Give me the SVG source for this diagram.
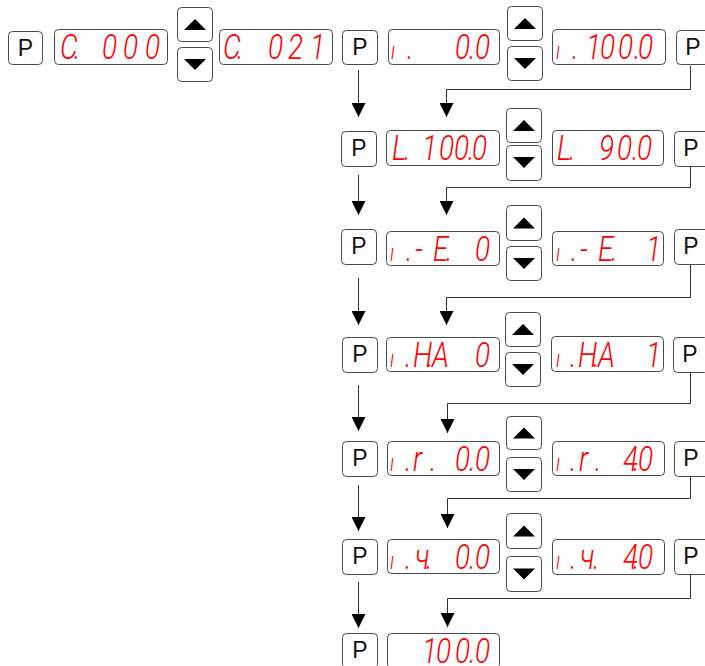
<svg xmlns="http://www.w3.org/2000/svg" width="705" height="666" viewBox="0 0 705 666">
<style>
.box{fill:#fff;stroke:#4a4a4a;stroke-width:1}
.p{font-family:"Liberation Sans",Arial,sans-serif;font-size:23px;text-anchor:middle;fill:#111}
.seg{font-family:Roboto,"Liberation Sans",sans-serif;font-style:italic;font-weight:300;font-size:35px;fill:#f00}
.sm{font-size:24px}
.tri{fill:#000}
.conn{fill:none;stroke:#333;stroke-width:1;marker-end:url(#ah)}
</style>
<defs>
<marker id="ah" markerUnits="userSpaceOnUse" markerWidth="14" markerHeight="14" refX="14" refY="7" orient="auto"><path d="M0,0 L14,7 L0,14 z" fill="#000"/></marker>
</defs>
<rect width="705" height="666" fill="#fff"/>
<g id="connectors">
<path class="conn" d="M358.5,70 V117"/>
<path class="conn" d="M358.5,175 V215"/>
<path class="conn" d="M358.5,278 V325"/>
<path class="conn" d="M358.5,385 V431"/>
<path class="conn" d="M358.5,485 V531"/>
<path class="conn" d="M358.5,582 V628"/>
<path class="conn" d="M690.5,66 V89.5 H446.5 V117"/>
<path class="conn" d="M690.5,167 V187.5 H446.5 V215"/>
<path class="conn" d="M690.5,265 V297.5 H446.5 V325"/>
<path class="conn" d="M690.5,373 V403.5 H447.5 V433"/>
<path class="conn" d="M690.5,477 V498.5 H447.5 V528"/>
<path class="conn" d="M690.5,575 V598.5 H447.5 V627"/>
</g>
<!-- Row 1 -->
<g id="r1-p1"><rect class="box" x="8.5" y="31.5" width="34" height="33" rx="4"/><text class="p" x="25.5" y="56">P</text></g>
<g id="r1-d1"><rect class="box" x="54.5" y="29.5" width="113" height="35" rx="4"/><text class="seg" y="59" transform="scale(0.8,1)"><tspan x="75">C</tspan><tspan x="92.5">.</tspan><tspan x="127.5">0</tspan><tspan x="153.75">0</tspan><tspan x="181.25">0</tspan></text></g>
<g id="r1-up1"><rect class="box" x="177.5" y="7.5" width="35" height="34" rx="4"/><polygon class="tri" points="184,30 206,30 195,19"/></g>
<g id="r1-dn1"><rect class="box" x="177.5" y="47.5" width="35" height="34" rx="4"/><polygon class="tri" points="184,59 206,59 195,70"/></g>
<g id="r1-d2"><rect class="box" x="219.5" y="29.5" width="113" height="35" rx="4"/><text class="seg" y="59" transform="scale(0.8,1)"><tspan x="278.75">C</tspan><tspan x="296.25">.</tspan><tspan x="335">0</tspan><tspan x="360">2</tspan><tspan x="387.5">1</tspan></text></g>
<g id="r1-p2"><rect class="box" x="342.5" y="30.5" width="35" height="34" rx="4"/><text class="p" x="360" y="55">P</text></g>
<g id="r1-d3"><rect class="box" x="388.5" y="29.5" width="111" height="35" rx="4"/><text class="seg" y="59" transform="scale(0.8,1)"><tspan x="488.75" class="sm">ı</tspan><tspan x="508.75">.</tspan><tspan x="568.75">0</tspan><tspan x="586.25">.</tspan><tspan x="593.75">0</tspan></text></g>
<g id="r1-up2"><rect class="box" x="507.5" y="6.5" width="35" height="34" rx="4"/><polygon class="tri" points="514,29 536,29 525,18"/></g>
<g id="r1-dn2"><rect class="box" x="507.5" y="46.5" width="35" height="34" rx="4"/><polygon class="tri" points="514,58 536,58 525,69"/></g>
<g id="r1-d4"><rect class="box" x="552.5" y="29.5" width="113" height="35" rx="4"/><text class="seg" y="59" transform="scale(0.8,1)"><tspan x="695" class="sm">ı</tspan><tspan x="715">.</tspan><tspan x="732.5">1</tspan><tspan x="750">0</tspan><tspan x="772.5">0</tspan><tspan x="792.5">.</tspan><tspan x="797.5">0</tspan></text></g>
<g id="r1-p3"><rect class="box" x="676.5" y="30.5" width="35" height="34" rx="4"/><text class="p" x="693" y="55">P</text></g>
<!-- Row 2 -->
<g id="r2-p1"><rect class="box" x="341.5" y="131.5" width="35" height="35" rx="4"/><text class="p" x="359" y="156">P</text></g>
<g id="r2-d1"><rect class="box" x="386.5" y="130.5" width="113" height="35" rx="4"/><text class="seg" y="160" transform="scale(0.8,1)"><tspan x="490">L</tspan><tspan x="505">.</tspan><tspan x="527.5">1</tspan><tspan x="548.75">0</tspan><tspan x="567.5">0</tspan><tspan x="585">.</tspan><tspan x="590">0</tspan></text></g>
<g id="r2-up"><rect class="box" x="506.5" y="108.5" width="35" height="34" rx="4"/><polygon class="tri" points="513,131 535,131 524,120"/></g>
<g id="r2-dn"><rect class="box" x="506.5" y="145.5" width="35" height="35" rx="4"/><polygon class="tri" points="513,157 535,157 524,168"/></g>
<g id="r2-d2"><rect class="box" x="552.5" y="130.5" width="111" height="35" rx="4"/><text class="seg" y="160" transform="scale(0.8,1)"><tspan x="696.25">L</tspan><tspan x="711.25">.</tspan><tspan x="748.75">9</tspan><tspan x="771.25">0</tspan><tspan x="790">.</tspan><tspan x="796.25">0</tspan></text></g>
<g id="r2-p2"><rect class="box" x="674.5" y="131.5" width="35" height="35" rx="4"/><text class="p" x="691" y="156">P</text></g>
<!-- Row 3 -->
<g id="r3-p1"><rect class="box" x="341.5" y="229.5" width="35" height="35" rx="4"/><text class="p" x="359" y="254">P</text></g>
<g id="r3-d1"><rect class="box" x="386.5" y="231.5" width="113" height="34" rx="4"/><text class="seg" y="261" transform="scale(0.8,1)"><tspan x="487.5" class="sm">ı</tspan><tspan x="507.5">.</tspan><tspan x="518.75">-</tspan><tspan x="541.25">E</tspan><tspan x="557.5">.</tspan><tspan x="593.75">0</tspan></text></g>
<g id="r3-up"><rect class="box" x="506.5" y="205.5" width="35" height="35" rx="4"/><polygon class="tri" points="513,228.5 535,228.5 524,217.5"/></g>
<g id="r3-dn"><rect class="box" x="506.5" y="246.5" width="35" height="34" rx="4"/><polygon class="tri" points="513,258 535,258 524,269"/></g>
<g id="r3-d2"><rect class="box" x="552.5" y="231.5" width="111" height="34" rx="4"/><text class="seg" y="261" transform="scale(0.8,1)"><tspan x="695" class="sm">ı</tspan><tspan x="713.75">.</tspan><tspan x="725">-</tspan><tspan x="747.5">E</tspan><tspan x="763.75">.</tspan><tspan x="807.5">1</tspan></text></g>
<g id="r3-p2"><rect class="box" x="674.5" y="229.5" width="35" height="35" rx="4"/><text class="p" x="691" y="254">P</text></g>
<!-- Row 4 -->
<g id="r4-p1"><rect class="box" x="342.5" y="337.5" width="35" height="35" rx="4"/><text class="p" x="360" y="362">P</text></g>
<g id="r4-d1"><rect class="box" x="386.5" y="337.5" width="113" height="34" rx="4"/><text class="seg" y="367" transform="scale(0.8,1)"><tspan x="487.5" class="sm">ı</tspan><tspan x="506.25">.</tspan><tspan x="516.25">H</tspan><tspan x="533.75">.</tspan><tspan x="540">A</tspan><tspan x="593.75">0</tspan></text></g>
<g id="r4-up"><rect class="box" x="505.5" y="312.5" width="35" height="34" rx="4"/><polygon class="tri" points="512,335 534,335 523,324"/></g>
<g id="r4-dn"><rect class="box" x="505.5" y="352.5" width="35" height="34" rx="4"/><polygon class="tri" points="512,364 534,364 523,375"/></g>
<g id="r4-d2"><rect class="box" x="551.5" y="336.5" width="112" height="35" rx="4"/><text class="seg" y="367" transform="scale(0.8,1)"><tspan x="695" class="sm">ı</tspan><tspan x="712.5">.</tspan><tspan x="722.5">H</tspan><tspan x="741.25">.</tspan><tspan x="747.5">A</tspan><tspan x="807.5">1</tspan></text></g>
<g id="r4-p2"><rect class="box" x="673.5" y="337.5" width="35" height="35" rx="4"/><text class="p" x="690" y="362">P</text></g>
<!-- Row 5 -->
<g id="r5-p1"><rect class="box" x="342.5" y="441.5" width="35" height="35" rx="4"/><text class="p" x="360" y="466">P</text></g>
<g id="r5-d1"><rect class="box" x="387.5" y="441.5" width="112" height="34" rx="4"/><text class="seg" y="471" transform="scale(0.8,1)"><tspan x="487.5" class="sm">ı</tspan><tspan x="506.25">.</tspan><tspan x="516.25">r</tspan><tspan x="537.5">.</tspan><tspan x="568.75">0</tspan><tspan x="586.25">.</tspan><tspan x="593.75">0</tspan></text></g>
<g id="r5-up"><rect class="box" x="506.5" y="416.5" width="35" height="33" rx="4"/><polygon class="tri" points="513,438.5 535,438.5 524,427.5"/></g>
<g id="r5-dn"><rect class="box" x="506.5" y="457.5" width="35" height="34" rx="4"/><polygon class="tri" points="513,469 535,469 524,480"/></g>
<g id="r5-d2"><rect class="box" x="552.5" y="441.5" width="112" height="34" rx="4"/><text class="seg" y="471" transform="scale(0.8,1)"><tspan x="695" class="sm">ı</tspan><tspan x="712.5">.</tspan><tspan x="723.75">r</tspan><tspan x="743.75">.</tspan><tspan x="778.75">4</tspan><tspan x="791.25">.</tspan><tspan x="797.5">0</tspan></text></g>
<g id="r5-p2"><rect class="box" x="674.5" y="441.5" width="35" height="35" rx="4"/><text class="p" x="691" y="466">P</text></g>
<!-- Row 6 -->
<g id="r6-p1"><rect class="box" x="342.5" y="539.5" width="35" height="35" rx="4"/><text class="p" x="360" y="564">P</text></g>
<g id="r6-d1"><rect class="box" x="387.5" y="539.5" width="112" height="34" rx="4"/><text class="seg" y="569" transform="scale(0.8,1)"><tspan x="487.5" class="sm">ı</tspan><tspan x="506.25">.</tspan><tspan x="518.75">ч</tspan><tspan x="532.5">.</tspan><tspan x="568.75">0</tspan><tspan x="586.25">.</tspan><tspan x="593.75">0</tspan></text></g>
<g id="r6-up"><rect class="box" x="506.5" y="513.5" width="35" height="35" rx="4"/><polygon class="tri" points="513,536.5 535,536.5 524,525.5"/></g>
<g id="r6-dn"><rect class="box" x="506.5" y="556.5" width="35" height="35" rx="4"/><polygon class="tri" points="513,568.5 535,568.5 524,579.5"/></g>
<g id="r6-d2"><rect class="box" x="552.5" y="539.5" width="112" height="35" rx="4"/><text class="seg" y="569" transform="scale(0.8,1)"><tspan x="695" class="sm">ı</tspan><tspan x="712.5">.</tspan><tspan x="725">ч</tspan><tspan x="741.25">.</tspan><tspan x="778.75">4</tspan><tspan x="791.25">.</tspan><tspan x="797.5">0</tspan></text></g>
<g id="r6-p2"><rect class="box" x="674.5" y="539.5" width="35" height="35" rx="4"/><text class="p" x="691" y="564">P</text></g>
<!-- Row 7 -->
<g id="r7-p1"><rect class="box" x="342.5" y="633.5" width="35" height="35" rx="4"/><text class="p" x="360" y="658">P</text></g>
<g id="r7-d1"><rect class="box" x="387.5" y="633.5" width="112" height="35" rx="4"/><text class="seg" y="663" transform="scale(0.8,1)"><tspan x="527.5">1</tspan><tspan x="545">0</tspan><tspan x="568.75">0</tspan><tspan x="586.25">.</tspan><tspan x="593.75">0</tspan></text></g>
</svg>
